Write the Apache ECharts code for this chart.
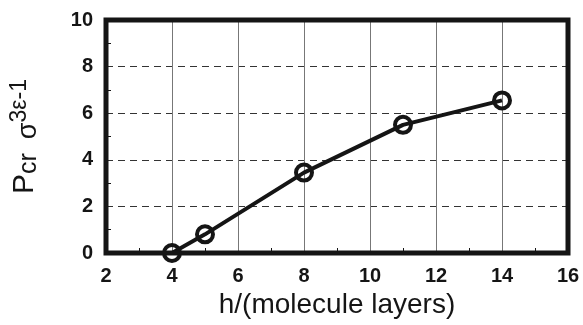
<!DOCTYPE html>
<html>
<head>
<meta charset="utf-8">
<script src="https://cdn.jsdelivr.net/npm/echarts@6/dist/echarts.min.js"></script>
<style>
    html, body { margin: 0; padding: 0; background: #fff; }
    #chart { width: 583px; height: 325px; }
</style>
</head>
<body>
<div id="chart"></div>
<script>
// data
var layers = [4, 5, 8, 11, 14];
var pressure = [0, 0.8, 3.45, 5.5, 6.55];

var xTicks = { min: 2, max: 16, step: 2 };
var yTicks = { min: 0, max: 10, step: 2 };

var ink = '#151515';
var labelFont = 'Liberation Sans, Arial, sans-serif';

function showChart() {
    var chart = echarts.init(document.getElementById('chart'), null, { renderer: 'canvas' });
    chart.setOption({
        animation: false,
        backgroundColor: '#fff',
        grid: {
            left: 103,
            top: 20,
            right: 15,
            bottom: 72,
            show: true,
            borderColor: ink,
            borderWidth: 5,
            z: 10
        },
        xAxis: {
            type: 'value',
            min: xTicks.min,
            max: xTicks.max,
            interval: xTicks.step,
            name: 'h/(molecule layers)',
            nameLocation: 'middle',
            nameGap: 36,
            nameTextStyle: {
                fontFamily: labelFont,
                fontSize: 28,
                color: ink
            },
            axisLine: { show: false },
            axisTick: { show: false, inside: true },
            minorTick: {
                show: true,
                splitNumber: 2,
                length: 5,
                lineStyle: { color: ink, width: 1 }
            },
            axisLabel: {
                margin: 13,
                fontFamily: labelFont,
                fontWeight: 'bold',
                fontSize: 20,
                color: ink
            },
            splitLine: {
                show: true,
                lineStyle: { color: '#777', width: 1, type: 'solid' }
            }
        },
        yAxis: {
            type: 'value',
            min: yTicks.min,
            max: yTicks.max,
            interval: yTicks.step,
            name: '{p|P}{sub|cr  }{s|σ}{sup|3ε-1}',
            nameLocation: 'middle',
            nameGap: 64,
            nameRotate: 90,
            nameTextStyle: {
                fontFamily: labelFont,
                color: ink,
                rich: {
                    p: { fontSize: 30, lineHeight: 34, verticalAlign: 'middle', fontFamily: labelFont, color: ink },
                    sub: { fontSize: 25, lineHeight: 28, verticalAlign: 'bottom', fontFamily: labelFont, color: ink },
                    s: { fontSize: 27, lineHeight: 28, verticalAlign: 'bottom', fontFamily: labelFont, color: ink },
                    sup: { fontSize: 23, lineHeight: 26, verticalAlign: 'top', fontFamily: labelFont, color: ink }
                }
            },
            axisLine: { show: false },
            axisTick: { show: false, inside: true },
            minorTick: {
                show: true,
                splitNumber: 2,
                length: 5,
                lineStyle: { color: ink, width: 1 }
            },
            axisLabel: {
                margin: 13,
                fontFamily: labelFont,
                fontWeight: 'bold',
                fontSize: 20,
                color: ink
            },
            splitLine: {
                show: true,
                lineStyle: { color: '#333', width: 1, type: [7, 5] }
            }
        },
        series: [{
            type: 'line',
            data: layers.map(function (h, i) {
                return [h, pressure[i]];
            }),
            symbol: 'circle',
            symbolSize: 16,
            lineStyle: { color: ink, width: 4 },
            itemStyle: {
                color: 'rgba(255,255,255,0)',
                borderColor: ink,
                borderWidth: 4
            },
            z: 5
        }]
    });
}

showChart();
</script>
</body>
</html>
